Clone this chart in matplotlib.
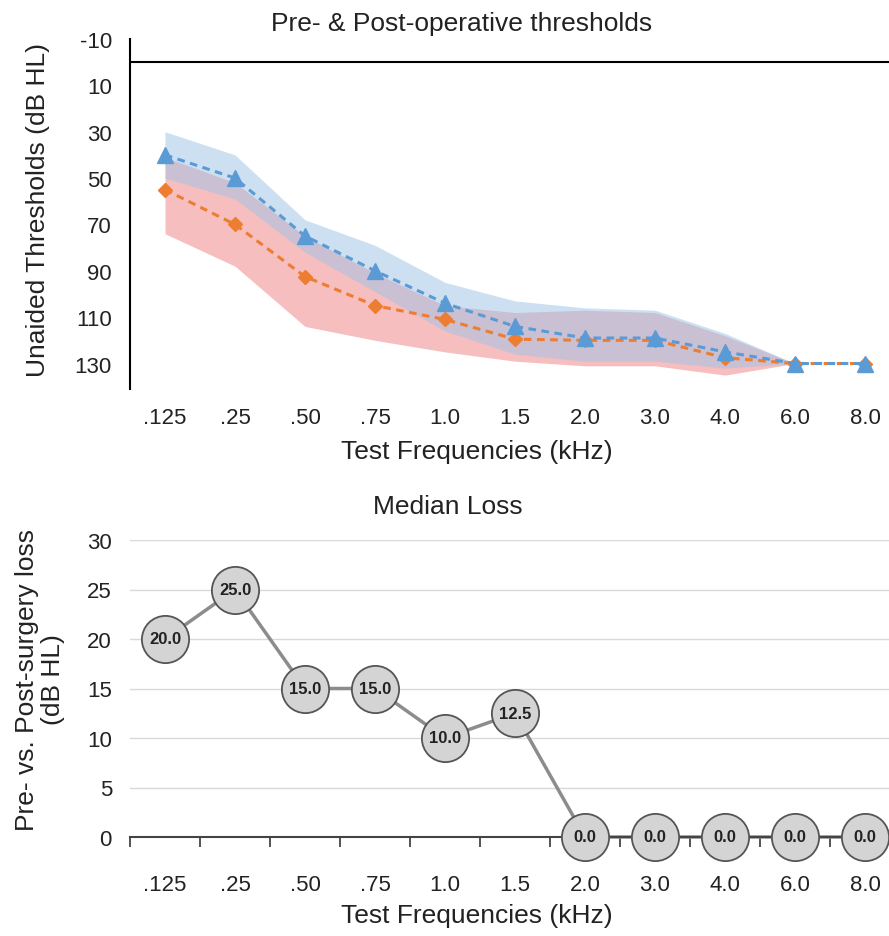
import numpy as np
import matplotlib
matplotlib.use('Agg')
import matplotlib.pyplot as plt

plt.rcParams['font.family'] = ['Liberation Sans', 'DejaVu Sans']
plt.rcParams['axes.unicode_minus'] = False

freqs = ['.125', '.25', '.50', '.75', '1.0', '1.5', '2.0', '3.0', '4.0', '6.0', '8.0']

# top panel: median thresholds and their ranges (dB HL)
pre_median = [40, 50, 75, 90, 104, 114, 119, 119, 125, 130, 130]
pre_upper = [30, 40, 68, 79, 95, 103, 106, 107, 117, 130, 130]
pre_lower = [50, 59, 82, 99, 116, 126, 129, 129, 132, 130, 130]

post_median = [55, 70, 92.5, 105, 111, 119.5, 120, 120, 127.5, 130, 130]
post_upper = [41, 52, 75, 91, 105, 108, 107, 108, 118, 130, 130]
post_lower = [74, 88, 114, 120, 125, 129, 131, 131, 135, 130, 130]

# bottom panel: median loss
median_loss = [20.0, 25.0, 15.0, 15.0, 10.0, 12.5, 0.0, 0.0, 0.0, 0.0, 0.0]

W, H = 889, 937
fig = plt.figure(figsize=(W / 100, H / 100), dpi=100)

def px(x0, y0, x1, y1):
    return [x0 / W, 1 - y1 / H, (x1 - x0) / W, (y1 - y0) / H]

x = np.arange(len(freqs))
txt = '#222222'

# ---------- top panel ----------
ax1 = fig.add_axes(px(130, 40, 900, 390))
ax1.fill_between(x, post_upper, post_lower, color='#f4a3a6', alpha=0.7, linewidth=0)
ax1.fill_between(x, pre_upper, pre_lower, color='#9dc3e6', alpha=0.5, linewidth=0)
ax1.plot(x, post_median, color='#ED7D31', linestyle=(0, (2.5, 1.8)), linewidth=2.2,
         marker='D', markersize=7)
ax1.plot(x, pre_median, color='#5B9BD5', linestyle=(0, (2.5, 1.8)), linewidth=2.2,
         marker='^', markersize=11)
ax1.axhline(0, color='black', linewidth=1.5)
ax1.set_xlim(-0.5, 10.5)
ax1.set_ylim(141, -10)
ax1.set_yticks(np.arange(-10, 131, 20))
ax1.set_xticks(x)
ax1.set_xticklabels(freqs)
for s in ['top', 'right', 'bottom']:
    ax1.spines[s].set_visible(False)
ax1.spines['left'].set_linewidth(1.5)
ax1.tick_params(axis='both', length=0, labelsize=16, colors=txt)
ax1.tick_params(axis='x', pad=13)
ax1.tick_params(axis='y', pad=13)

fig.text(462 / W, 1 - 24 / H, 'Pre- & Post-operative thresholds', fontsize=19,
         ha='center', va='center', color=txt)
fig.text(477 / W, 1 - 452 / H, 'Test Frequencies (kHz)', fontsize=19,
         ha='center', va='center', color=txt)
fig.text(38 / W, 1 - 210 / H, 'Unaided Thresholds (dB HL)', fontsize=19,
         ha='center', va='center', rotation=90, color=txt)

# ---------- bottom panel ----------
ax2 = fig.add_axes(px(130, 541, 900, 838))
ax2.plot(x, median_loss, color='#8c8c8c', linewidth=2.5, zorder=2, clip_on=False)
ax2.plot(x, median_loss, linestyle='none', marker='o', markersize=34,
         markerfacecolor='#d4d4d4', markeredgecolor='#555555', markeredgewidth=1.3,
         zorder=3, clip_on=False)
for xi, v in zip(x, median_loss):
    ax2.text(xi, v, f'{v:.1f}', ha='center', va='center', fontsize=12,
             fontweight='bold', color=txt, zorder=4)
ax2.set_xlim(-0.5, 10.5)
ax2.set_ylim(0, 30)
ax2.set_yticks(np.arange(0, 31, 5))
ax2.set_xticks(x)
ax2.set_xticklabels(freqs)
ax2.set_xticks(np.arange(-0.5, 11, 1), minor=True)
ax2.grid(axis='y', color='#d9d9d9', linewidth=1)
ax2.set_axisbelow(True)
for s in ['top', 'right', 'left']:
    ax2.spines[s].set_visible(False)
ax2.spines['bottom'].set_color('#444444')
ax2.spines['bottom'].set_linewidth(1.5)
ax2.tick_params(axis='both', which='major', length=0, labelsize=16, colors=txt)
ax2.tick_params(axis='x', which='minor', length=7, width=1.3, color='#444444')
ax2.tick_params(axis='x', which='major', pad=27)
ax2.tick_params(axis='y', pad=13)

fig.text(448 / W, 1 - 507 / H, 'Median Loss', fontsize=19,
         ha='center', va='center', color=txt)
fig.text(477 / W, 1 - 916 / H, 'Test Frequencies (kHz)', fontsize=19,
         ha='center', va='center', color=txt)
fig.text(40 / W, 1 - 680 / H, 'Pre- vs. Post-surgery loss\n(dB HL)', fontsize=19,
         ha='center', va='center', rotation=90, color=txt, linespacing=1.15)

fig.savefig('out.png', dpi=100)
